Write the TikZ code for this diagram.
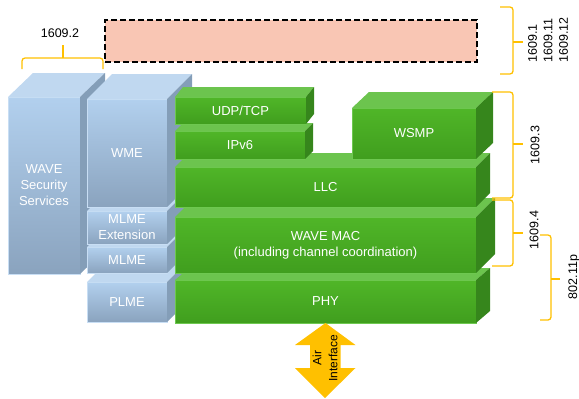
\documentclass[tikz,border=0pt]{standalone}
\usepackage{fontspec}
\setmainfont{Liberation Sans}
\definecolor{bluetopface}{RGB}{192,216,240}
\definecolor{bluefrontA}{RGB}{178,208,238}
\definecolor{bluefrontB}{RGB}{138,163,190}
\definecolor{bluesideface}{RGB}{132,158,184}
\definecolor{blueedge}{RGB}{200,222,244}
\definecolor{greentopface}{RGB}{108,196,78}
\definecolor{greenfrontA}{RGB}{80,182,40}
\definecolor{greenfrontB}{RGB}{64,158,30}
\definecolor{greensideface}{RGB}{54,134,28}
\definecolor{greenedge}{RGB}{110,200,80}
\definecolor{bracecol}{RGB}{255,192,0}
\definecolor{stdfill}{RGB}{249,198,180}
\tikzset{
  face/.style={inner sep=0pt, outer sep=0pt, align=center, text=white,
    font=\fontsize{13}{16}\selectfont},
  bluefront/.style={face, top color=bluefrontA, bottom color=bluefrontB,
    draw=blueedge, line width=0.5pt},
  bluetop/.style={fill=bluetopface},
  blueside/.style={fill=bluesideface},
  greenfront/.style={face, top color=greenfrontA, bottom color=greenfrontB,
    draw=greenedge, line width=0.5pt},
  greentop/.style={fill=greentopface},
  greenside/.style={fill=greensideface},
  brace/.style={draw=bracecol, line width=1.3pt, rounded corners=3pt},
  lbl/.style={font=\fontsize{12.5}{15.5}\selectfont, inner sep=0pt},
}
% #1 name, #2..#5 front face x1,y1,x2,y2, #6,#7 depth, #8 colour kind, #9 text
\newcommand\slab[9]{%
  \node[#8front, minimum width={(#4-#2)*1pt}, minimum height={(#5-#3)*1pt}]
    (#1) at ({(#2+#4)/2},{(#3+#5)/2}) {#9};
  \fill[#8top] (#1.north west) -- ++(#6,-#7) -- ([shift={(#6,-#7)}]#1.north east)
    -- (#1.north east) -- cycle;
  \fill[#8side] (#1.north east) -- ++(#6,-#7) -- ([shift={(#6,-#7)}]#1.south east)
    -- (#1.south east) -- cycle;
}
\begin{document}
\begin{tikzpicture}[x=1pt, y=-1pt]
\useasboundingbox (0,0) rectangle (579,399);

% upper-layer standards placeholder
\node[draw=black, dash pattern=on 6pt off 3pt, line width=1.4pt, fill=stdfill,
  minimum width=372pt, minimum height=42pt, inner sep=0pt] (upper) at (291,41) {};

% management planes (blue)
\slab{sec}{8}{97}{80}{274}{25}{24}{blue}{WAVE\\Security\\Services}
\slab{plme}{87}{282}{167}{322}{20}{20}{blue}{PLME}
\slab{mlme}{87}{247}{167}{273}{20}{20}{blue}{MLME}
\slab{mlmeext}{87}{211}{167}{244}{20}{20}{blue}{MLME\\Extension}
\slab{wme}{87}{99}{167}{207}{25}{25}{blue}{WME}

% data plane (green), bottom up
\slab{phy}{175}{280}{476}{323}{14}{12}{green}{PHY}
\slab{mac}{175}{217}{476}{273}{19}{19}{green}{WAVE MAC\\(including channel coordination)}
\slab{llc}{175}{167}{476}{207}{14}{14}{green}{LLC}
\slab{ipv6}{175}{131}{305}{159}{8}{8}{green}{IPv6}
\slab{wsmp}{352}{108}{476}{159}{17}{16}{green}{WSMP}
\slab{udp}{175}{97}{306}{124}{8}{10}{green}{UDP/TCP}

% air interface double arrow
\coordinate (airtop) at (phy.south);
\coordinate (airbot) at (325,398);
\fill[bracecol] (airtop) -- ++(30,22) -- ++(-15,0) -- ++(0,23) -- ++(15,0)
  -- (airbot) -- ++(-30,-30) -- ++(15,0) -- ++(0,-23) -- ++(-15,0) -- cycle;
\node[font=\fontsize{12}{16}\selectfont, rotate=90, align=center, inner sep=0pt]
  (air) at (325,358) {Air\\Interface};

% 1609.2 brace
\draw[brace] (22,69) -- (22,58) -- (63,58) -- (103,58) -- (103,69);
\draw[brace] (63,58) -- (63,45);
\node[lbl] (l2) at (60,33) {1609.2};

% 1609.1 / .11 / .12 brace
\draw[brace] (500,7) -- (513,7) -- (513,42) -- (513,74) -- (500,74);
\draw[brace] (513,42) -- (523,42);
\node[lbl, rotate=90, align=left] (l1) at (548,40) {1609.1\\1609.11\\1609.12};

% 1609.3 brace
\draw[brace] (492,92) -- (513,92) -- (513,144) -- (513,198) -- (492,198);
\draw[brace] (513,144) -- (523,144);
\node[lbl, rotate=90] (l3) at (535,145) {1609.3};

% 1609.4 brace
\draw[brace] (492,200) -- (513,200) -- (513,233) -- (513,266) -- (492,266);
\draw[brace] (513,233) -- (523,233);
\node[lbl, rotate=90] (l4) at (534,230) {1609.4};

% 802.11p brace
\draw[brace] (540,235) -- (551,235) -- (551,279) -- (551,320) -- (540,320);
\draw[brace] (551,279) -- (560,279);
\node[lbl, rotate=90] (l5) at (574,277) {802.11p};
\end{tikzpicture}
\end{document}
